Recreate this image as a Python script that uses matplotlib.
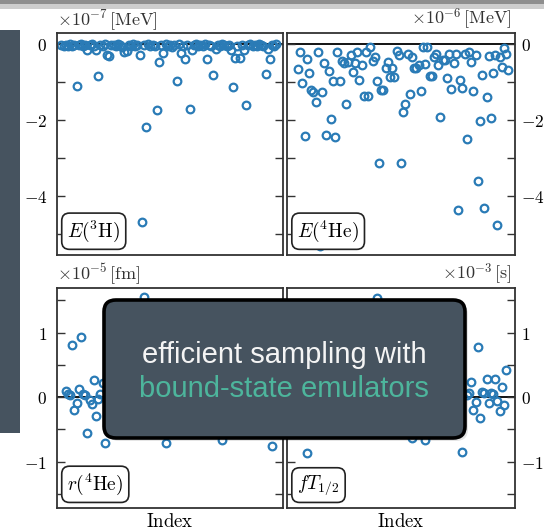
import matplotlib
matplotlib.use("Agg")
import matplotlib.pyplot as plt
from matplotlib.patches import FancyBboxPatch, Rectangle

plt.rcParams['mathtext.fontset'] = 'cm'

# E(3H), units 1e-7 MeV, one value per sample index 0..99
e3h_idx = list(range(100))
e3h_val = [-0.03, -0.06, -0.02, -0.04, -0.01, -0.05, -0.02, -1.10, -0.03, -0.01,
           -0.04, -0.02, -0.16, -0.03, -0.01, -0.05, -0.17, -0.85, -0.02, -0.04,
           -0.01, -0.29, -0.31, -0.03, -0.02, -0.05, -0.01, -0.03, -0.08, -0.20,
           -0.18, -0.02, -0.04, -0.01, -0.06, -0.03, -0.29, -4.68, -0.02, -2.19,
           -0.01, -0.04, -0.02, -0.06, -1.74, -0.47, -0.03, -0.24, -0.01, -0.05,
           -0.02, -0.08, -0.03, -0.98, -0.01, -0.24, -0.04, -0.39, -0.02, -1.71,
           -0.16, -0.03, -0.01, -0.05, -0.02, -0.04, -0.01, -0.40, -0.03, -0.06,
           -0.82, -0.14, -0.02, -0.04, -0.01, -0.03, -0.05, -0.02, -0.15, -1.13,
           -0.37, -0.06, -0.38, -0.02, -0.17, -1.61, -0.03, -0.01, -0.05, -0.02,
           -0.04, -0.01, -0.03, -0.06, -0.80, -0.13, -0.39, -0.02, -0.04, -0.01]

# E(4He), units 1e-6 MeV
e4he_idx = list(range(3, 100))
e4he_val = [-0.67, -0.22, -1.02, -2.41, -0.39, -0.75, -1.20, -1.25, -1.52, -0.20,
            -5.32, -1.25, -0.51, -2.39, -0.70, -1.97, -0.97, -2.45, -0.20, -0.97,
            -0.45, -0.50, -1.58, -0.48, -0.29, -0.73, -0.51, -0.20, -0.95, -0.55,
            -1.36, -0.20, -1.36, -0.09, -0.45, -0.35, -0.97, -3.12, -1.20, -1.21,
            -0.64, -0.46, -0.86, -0.62, -0.86, -0.18, -0.29, -3.12, -1.78, -1.58,
            -0.25, -1.32, -0.35, -0.62, -0.62, -0.55, -1.23, -0.07, -0.53, -0.07,
            -0.84, -0.84, -0.35, -0.26, -0.56, -1.91, -0.43, -0.43, -0.89, -0.27,
            -1.19, -0.49, -0.25, -4.37, -0.95, -1.17, -0.25, -2.51, -0.20, -0.47,
            -1.23, -0.29, -3.60, -2.03, -0.82, -4.31, -1.40, -0.32, -1.95, -0.77,
            -0.29, -4.76, -0.35, -0.60, -0.10, -0.26, -0.68]

# r(4He), units 1e-5 fm (visible points)
r4he_idx = [2, 3, 4, 5, 6, 7, 8, 9, 10, 11, 12, 13, 14, 15, 16, 17, 18, 19, 20,
            38, 48, 74, 97]
r4he_val = [0.10, 0.05, 0.03, 0.81, -0.20, -0.10, 0.13, 0.93, 0.05, 0.03, -0.55,
            -0.05, -0.11, 0.26, -0.30, -0.03, 0.05, 0.21, -0.71,
            1.55, -0.71, -0.66, -0.76]

# fT1/2, units 1e-3 s (visible points)
ft_idx = [7, 39, 55, 61, 78, 80, 81, 82, 83, 84, 85, 86, 87, 88, 89, 90, 91, 92,
          93, 94, 95, 96, 97, 98]
ft_val = [-0.86, 1.53, -0.64, -0.67, -0.85, 0.03, 0.07, 0.24, -0.20, -0.07, 0.78,
          -0.32, 0.08, 0.07, 0.28, -0.10, 0.06, 0.04, 0.28, -0.06, -0.22, 0.15,
          -0.13, 0.42]

W, H = 544, 530
fig = plt.figure(figsize=(W / 100, H / 100), dpi=100)


def fx(px):
    return px / W


def fy(py):
    return 1 - py / H


# slide decorations, kept behind everything else
fig.add_artist(Rectangle((0, fy(4)), 1, 4 / H, transform=fig.transFigure,
                         color='#8e8e8e', lw=0, zorder=-2))
fig.add_artist(Rectangle((0, fy(9)), 1, 5 / H, transform=fig.transFigure,
                         color='#cdcdcd', lw=0, zorder=-2))
fig.add_artist(Rectangle((0, fy(433)), fx(20), (433 - 30) / H,
                         transform=fig.transFigure, color='#46535f', lw=0,
                         zorder=-2))

blue = '#2a7bb6'
lefts = [57, 287]
widths = [226, 228]
tops = [33, 288]
heights = [222, 220]

panels = [
    (e3h_idx, e3h_val, 0, 0, r'$E(^3\mathrm{H})$', r'$\times10^{-7}\,[\mathrm{MeV}]$'),
    (e4he_idx, e4he_val, 0, 1, r'$E(^4\mathrm{He})$', r'$\times10^{-6}\,[\mathrm{MeV}]$'),
    (r4he_idx, r4he_val, 1, 0, r'$r(^4\mathrm{He})$', r'$\times10^{-5}\,[\mathrm{fm}]$'),
    (ft_idx, ft_val, 1, 1, r'$fT_{1/2}$', r'$\times10^{-3}\,[\mathrm{s}]$'),
]

for xs, ys, row, col, name, unit in panels:
    l, w = lefts[col], widths[col]
    t, h = tops[row], heights[row]
    ax = fig.add_axes([fx(l), fy(t + h), w / W, h / H])
    ax.axhline(0, color='k', lw=1.3, zorder=1)
    ax.plot(xs, ys, 'o', ls='none', mfc='none', mec=blue, ms=5.5, mew=1.6,
            zorder=2)
    ax.set_xlim(-2, 102)
    ax.set_xticks([])
    if row == 0:
        ax.set_ylim(-5.55, 0.29)
        ax.set_yticks([0, -2, -4])
        ax.set_yticklabels([r'$0$', r'$-2$', r'$-4$'])
        ax.set_yticks([-1, -3, -5], minor=True)
    else:
        ax.set_ylim(-1.72, 1.69)
        ax.set_yticks([1, 0, -1])
        ax.set_yticklabels([r'$1$', r'$0$', r'$-1$'])
        ax.set_yticks([1.5, 0.5, -0.5, -1.5], minor=True)
        ax.set_xlabel(r'$\mathrm{Index}$', fontsize=13.5, labelpad=3)
    ax.tick_params(axis='y', which='both', direction='in', left=True, right=True,
                   length=6, width=1.0, color='#333333', labelsize=12.5,
                   labelleft=(col == 0), labelright=(col == 1),
                   pad=(7 if col == 0 else 4))
    for s in ax.spines.values():
        s.set_color('#333333')
        s.set_linewidth(1.3)
    ax.text(0.045, 0.05, name, transform=ax.transAxes, fontsize=14,
            ha='left', va='bottom', zorder=5,
            bbox=dict(boxstyle='round,pad=0.28,rounding_size=0.4', fc='white',
                      ec='#222222', lw=1.2))
    if col == 0:
        ax.text(0.0, 1.005, unit, transform=ax.transAxes, fontsize=13,
                ha='left', va='bottom', color='#333333')
    else:
        ax.text(0.985, 1.005, unit, transform=ax.transAxes, fontsize=13,
                ha='right', va='bottom', color='#333333')

# overlay callout box
bx0, by0, bx1, by1 = 104, 300, 465, 438
fig.add_artist(FancyBboxPatch((fx(bx0 + 3), fy(by1 + 3)), (bx1 - bx0) / W,
                              (by1 - by0) / H,
                              boxstyle='round,pad=0,rounding_size=0.022',
                              transform=fig.transFigure, fc='#000000', alpha=0.1,
                              lw=0, zorder=9))
fig.add_artist(FancyBboxPatch((fx(bx0), fy(by1)), (bx1 - bx0) / W,
                              (by1 - by0) / H,
                              boxstyle='round,pad=0,rounding_size=0.022',
                              transform=fig.transFigure, fc='#46535f', ec='black',
                              lw=2.6, zorder=10))
fig.text(fx(284), fy(355), 'efficient sampling with', ha='center', va='center',
         fontsize=21, color='#f4f4f4', family='Liberation Sans', zorder=11)
fig.text(fx(284), fy(389), 'bound-state emulators', ha='center', va='center',
         fontsize=21, color='#4db59c', family='Liberation Sans', zorder=11)

fig.savefig('out.png', dpi=100)
